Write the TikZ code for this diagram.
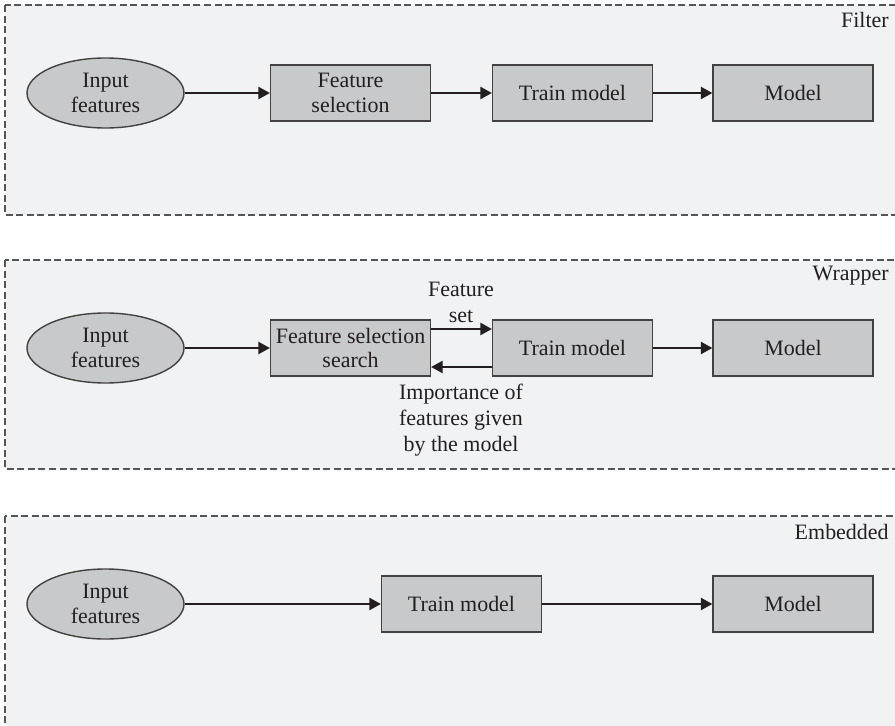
\documentclass[tikz,border=0pt]{standalone}
\usepackage{fontspec}
\setmainfont{Liberation Serif}
\usetikzlibrary{arrows.meta,shapes.geometric}
\definecolor{panelfill}{HTML}{F1F2F4}
\definecolor{boxfill}{HTML}{C8C9CB}
\definecolor{ink}{HTML}{231F20}
\definecolor{dashc}{HTML}{555555}
\tikzset{
  panel/.style={draw=dashc, dashed, dash pattern=on 4pt off 2pt, fill=panelfill, line width=0.6pt},
  procbox/.style={draw=ink!85, fill=boxfill, line width=0.8pt, minimum width=160*0.02cm, minimum height=56*0.02cm, inner sep=0pt, align=center, text=ink, font=\fontsize{12.5}{14.2}\selectfont},
  inputell/.style={ellipse, draw=ink!85, fill=boxfill, line width=0.8pt, minimum width=157*0.02cm, minimum height=70*0.02cm, inner sep=0pt, align=center, text=ink, font=\fontsize{12.5}{14.2}\selectfont},
  conn/.style={draw=ink, line width=0.8pt, -{Triangle[length=6.5pt,width=7pt]}},
  lbl/.style={text=ink, align=center, font=\fontsize{12.5}{14.8}\selectfont, inner sep=0pt},
  ptitle/.style={text=ink, anchor=east, font=\fontsize{12.5}{14.2}\selectfont, inner sep=0pt}
}
\begin{document}
\begin{tikzpicture}[x=0.02cm,y=-0.02cm]
\useasboundingbox (0,0) rectangle (895,726);
\fill[white] (0,0) rectangle (895,726);
% panels
\draw[panel] (5,5) rectangle (910,215);
\draw[panel] (5,260) rectangle (910,469);
\draw[panel] (5,516) rectangle (910,740);
\node[ptitle] (tfilter) at (889,20) {Filter};
\node[ptitle] (twrap) at (889,276) {Wrapper};
\node[ptitle] (temb) at (889,532) {Embedded};
% Filter
\node[inputell] (fin) at (105.5,93) {Input\\features};
\node[procbox] (fsel) at (350.5,93) {Feature\\selection};
\node[procbox] (ftrain) at (572.5,93) {Train model};
\node[procbox] (fmodel) at (793,93) {Model};
\draw[conn] (fin) -- (fsel);
\draw[conn] (fsel) -- (ftrain);
\draw[conn] (ftrain) -- (fmodel);
% Wrapper
\node[inputell] (win) at (105.5,348) {Input\\features};
\node[procbox] (wsel) at (350.5,348) {Feature selection\\search};
\node[procbox] (wtrain) at (572.5,348) {Train model};
\node[procbox] (wmodel) at (793,348) {Model};
\draw[conn] (win) -- (wsel);
\draw[conn] ([yshift=19*0.02cm]wsel.east) -- ([yshift=19*0.02cm]wtrain.west);
\draw[conn] ([yshift=-19*0.02cm]wtrain.west) -- ([yshift=-19*0.02cm]wsel.east);
\draw[conn] (wtrain) -- (wmodel);
\node[lbl] (wfs) at (461,302) {Feature\\set};
\node[lbl] (wimp) at (461,420) {Importance of\\features given\\by the model};
% Embedded
\node[inputell] (ein) at (105.5,604) {Input\\features};
\node[procbox] (etrain) at (461.5,604) {Train model};
\node[procbox] (emodel) at (793,604) {Model};
\draw[conn] (ein) -- (etrain);
\draw[conn] (etrain) -- (emodel);
\end{tikzpicture}
\end{document}
